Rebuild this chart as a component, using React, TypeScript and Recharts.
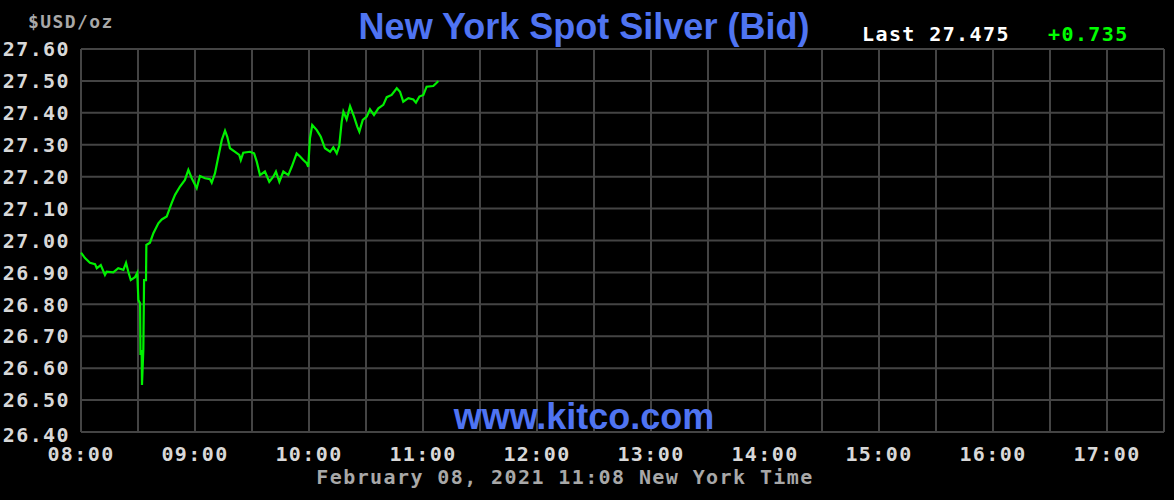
import { LineChart, Line, XAxis, YAxis, CartesianGrid } from "recharts";

// minutes after 08:00 New York time
const minutes = [
  0, 2.1, 4.7, 7.4, 8.3, 10.4, 12.6, 13.5, 17, 19.6, 22.3, 23.7, 24.9, 26.2,
  28.4, 29.6, 30.2, 31.1, 31.3, 31.9, 32.1, 32.8, 33.2, 34.2, 34.4, 36.3, 38.1,
  40.7, 42.5, 45.1, 47.7, 49.5, 52.1, 54.7, 56.5, 58.3, 60.9, 62.6, 65.3, 67.9,
  68.8, 70.5, 72.3, 74.1, 75.8, 77, 78.4, 81.1, 83.3, 84.1, 85.4, 88.9, 91.1,
  92.5, 94.2, 96.8, 99.1, 101.2, 102.6, 104.4, 106.5, 109.1, 110.9, 113.5,
  115.3, 117, 118.8, 119.6, 120.5, 121.7, 124.1, 126.2, 128.4, 131.1, 132.8,
  134.6, 135.9, 137.2, 138.1, 139.8, 141.6, 143.7, 145.4, 146.5, 148.3, 150.4,
  152.1, 154.2, 156.5, 159.1, 160.9, 163.5, 166.2, 167.9, 169.6, 172.3, 174.9,
  176.3, 178.1, 180.2, 181.9, 185.4, 186.8, 188.1,
];

const bids = [
  26.962, 26.945, 26.93, 26.926, 26.913, 26.923, 26.892, 26.902, 26.9, 26.913,
  26.908, 26.93, 26.902, 26.876, 26.885, 26.899, 26.814, 26.803, 26.641,
  26.657, 26.547, 26.657, 26.876, 26.876, 26.986, 26.993, 27.023, 27.054,
  27.066, 27.075, 27.117, 27.143, 27.169, 27.19, 27.221, 27.195, 27.164,
  27.202, 27.195, 27.192, 27.181, 27.21, 27.263, 27.315, 27.344, 27.325,
  27.289, 27.278, 27.268, 27.252, 27.275, 27.278, 27.273, 27.247, 27.205,
  27.216, 27.184, 27.2, 27.216, 27.184, 27.216, 27.205, 27.231, 27.273, 27.263,
  27.252, 27.242, 27.231, 27.32, 27.362, 27.346, 27.325, 27.289, 27.278,
  27.292, 27.273, 27.296, 27.372, 27.404, 27.38, 27.421, 27.388, 27.357,
  27.341, 27.378, 27.388, 27.411, 27.393, 27.414, 27.425, 27.449, 27.456,
  27.477, 27.466, 27.435, 27.446, 27.442, 27.432, 27.451, 27.456, 27.482,
  27.484, 27.492, 27.5,
];

const hourLabels = [
  "08:00", "09:00", "10:00", "11:00", "12:00",
  "13:00", "14:00", "15:00", "16:00", "17:00",
];
const halfHourTicks = [
  0, 30, 60, 90, 120, 150, 180, 210, 240, 270,
  300, 330, 360, 390, 420, 450, 480, 510, 540, 570,
];
const priceTicks = [
  26.4, 26.5, 26.6, 26.7, 26.8, 26.9, 27.0, 27.1, 27.2, 27.3, 27.4, 27.5, 27.6,
];

const data = minutes.map((t, i) => ({ t, bid: bids[i] }));

const mono = "'DejaVu Sans Mono', monospace";
const sans = "'Liberation Sans', Arial, sans-serif";

function PriceTick(props: any) {
  const { x, y, payload } = props;
  // bottom label sits a little low in the original
  const shift = payload.value <= 26.4 ? 3 : 0;
  return (
    <text
      x={x}
      y={y + shift}
      dy="0.36em"
      textAnchor="end"
      fill="#d8d8d8"
      fontFamily={mono}
      fontWeight="bold"
      fontSize={20}
      letterSpacing={1.4}
    >
      {payload.value.toFixed(2)}
    </text>
  );
}

function App() {
  return (
    <div style={{ position: "relative", width: 1174, height: 500, background: "#000" }}>
      <style>{"body{margin:0;background:#000}"}</style>
      <LineChart
        width={1174}
        height={500}
        data={data}
        margin={{ top: 49, right: 10, left: 0, bottom: 0 }}
      >
        <CartesianGrid stroke="#444" strokeWidth={2} />
        <XAxis
          dataKey="t"
          type="number"
          domain={[0, 570]}
          ticks={halfHourTicks}
          interval={0}
          height={68}
          tickSize={0}
          tickMargin={15}
          axisLine={false}
          tickFormatter={(v: number) => (v % 60 === 0 ? hourLabels[v / 60] : "")}
          tick={{
            fill: "#d8d8d8",
            fontFamily: mono,
            fontWeight: "bold",
            fontSize: 20,
            letterSpacing: 1.4,
          }}
        />
        <YAxis
          domain={[26.4, 27.6]}
          ticks={priceTicks}
          interval={0}
          width={81}
          tickSize={0}
          tickMargin={11}
          axisLine={false}
          tick={<PriceTick />}
        />
        <Line
          dataKey="bid"
          type="linear"
          stroke="#00f000"
          strokeWidth={2.2}
          dot={false}
          isAnimationActive={false}
        />
      </LineChart>
      <div style={{ position: "absolute", left: 28, top: 11, color: "#a8a8a8", fontFamily: mono, fontWeight: "bold", fontSize: 18, letterSpacing: 1.4 }}>
        $USD/oz
      </div>
      <div style={{ position: "absolute", left: 0, width: 1168, top: 6, textAlign: "center", color: "#4f74f2", fontFamily: sans, fontWeight: "bold", fontSize: 36 }}>
        New York Spot Silver (Bid)
      </div>
      <div style={{ position: "absolute", left: 862, top: 22, color: "#fff", fontFamily: mono, fontWeight: "bold", fontSize: 20, letterSpacing: 1.4, whiteSpace: "pre" }}>
        Last 27.475
      </div>
      <div style={{ position: "absolute", left: 1048, top: 22, color: "#00ff00", fontFamily: mono, fontWeight: "bold", fontSize: 20, letterSpacing: 1.4 }}>
        +0.735
      </div>
      <div style={{ position: "absolute", left: 0, width: 1168, top: 396, textAlign: "center", color: "#4f74f2", fontFamily: sans, fontWeight: "bold", fontSize: 36 }}>
        www.kitco.com
      </div>
      <div style={{ position: "absolute", left: 0, width: 1130, top: 465, textAlign: "center", color: "#a8a8a8", fontFamily: mono, fontWeight: "bold", fontSize: 20, letterSpacing: 1.4 }}>
        February 08, 2021 11:08 New York Time
      </div>
    </div>
  );
}

export default App;
